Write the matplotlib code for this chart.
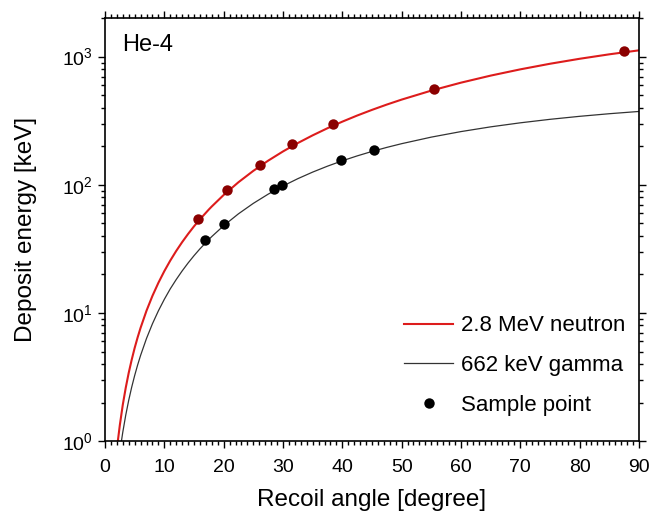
import matplotlib
matplotlib.use("Agg")
import matplotlib.pyplot as plt
from matplotlib.ticker import MultipleLocator, LogLocator, NullFormatter, FixedLocator

plt.rcParams['font.family'] = ['Liberation Sans', 'DejaVu Sans']
plt.rcParams['mathtext.fontset'] = 'custom'
plt.rcParams['mathtext.rm'] = 'Liberation Sans'
plt.rcParams['mathtext.it'] = 'Liberation Sans'

# Curves
neutron_angle = [2.0, 2.2, 2.5, 3, 3.5, 4, 4.5, 5, 5.5, 6, 7, 8, 9, 10, 11, 12, 13, 14, 15,
                 16, 17.5, 18, 20, 22.5, 25, 27.5, 30, 32.5, 35, 37.5, 40, 42.5, 45, 47.5,
                 50, 55, 60, 65, 70, 75, 80, 85, 90]
neutron_energy = [0.853, 1.03, 1.33, 1.92, 2.61, 3.41, 4.31, 5.33, 6.44, 7.66, 10.42, 13.6,
                  17.19, 21.2, 25.62, 30.45, 35.68, 41.32, 47.4, 53.78, 64.15, 67.77, 83.3,
                  104.8, 128.5, 154.3, 182.1, 211.8, 243.2, 276.4, 311.0, 347.1, 384.3,
                  422.8, 462.2, 543.3, 626.6, 711.2, 795.9, 880.0, 962.4, 1042.7, 1120.0]
gamma_angle = [2.6, 2.8, 3, 3.5, 4, 4.5, 5, 5.5, 6, 7, 8, 9, 10, 11, 12, 13, 14, 15, 16,
               17.5, 18, 20, 22.5, 25, 27.5, 30, 32.5, 35, 37.5, 40, 42.5, 45, 47.5,
               50, 55, 60, 65, 70, 75, 80, 85, 90]
gamma_energy = [0.882, 1.02, 1.173, 1.596, 2.083, 2.634, 3.247, 3.925, 4.665, 6.331, 8.24,
                10.39, 12.78, 15.42, 18.22, 21.27, 24.53, 27.99, 31.64, 37.45, 39.47, 47.97,
                59.42, 71.66, 84.53, 97.91, 111.66, 125.66, 139.8, 153.98, 168.1, 182.1,
                195.9, 209.4, 235.6, 260.2, 283.3, 304.6, 324.3, 342.3, 358.7, 373.6]

# Sample points
neutron_pts_angle = [15.7, 20.6, 26.1, 31.5, 38.4, 55.5, 87.4]
neutron_pts_energy = [54, 91, 143, 209, 300, 562, 1100]
gamma_pts_angle = [16.9, 20.1, 28.5, 29.8, 39.8, 45.4]
gamma_pts_energy = [37, 49.6, 93, 100, 157, 188]

fig = plt.figure(figsize=(6.52, 5.16), dpi=100)
ax = fig.add_axes([0.161, 0.145, 0.819, 0.820])

ax.plot(neutron_angle, neutron_energy, color='#dd1c1c', lw=1.5, label='2.8 MeV neutron', zorder=2)
ax.plot(gamma_angle, gamma_energy, color='#333333', lw=0.9, label='662 keV gamma', zorder=2)
ax.plot(neutron_pts_angle, neutron_pts_energy, 'o', color='#8b0000', ms=7.5, mec='none', zorder=3)
ax.plot(gamma_pts_angle, gamma_pts_energy, 'o', color='black', ms=7.5, mec='none', zorder=3,
        label='Sample point')

ax.set_yscale('log')
ax.set_xlim(0, 90)
ax.set_ylim(1, 2000)

ax.xaxis.set_major_locator(MultipleLocator(10))
ax.xaxis.set_minor_locator(MultipleLocator(1))
ax.yaxis.set_major_locator(FixedLocator([1, 10, 100, 1000]))
ax.yaxis.set_minor_locator(LogLocator(base=10, subs=range(2, 10), numticks=20))
ax.yaxis.set_minor_formatter(NullFormatter())
ax.set_yticklabels([r'$10^{0}$', r'$10^{1}$', r'$10^{2}$', r'$10^{3}$'])

ax.tick_params(which='both', direction='out', top=True, right=True, labelsize=14, width=1.0)
ax.tick_params(axis='x', which='major', length=5, pad=8)
ax.tick_params(axis='y', which='major', length=5, pad=4)
ax.tick_params(which='minor', length=3)
for s in ax.spines.values():
    s.set_linewidth(1.2)

ax.set_xlabel('Recoil angle [degree]', fontsize=17.5, labelpad=9.5)
ax.set_ylabel('Deposit energy [keV]', fontsize=17.5, labelpad=18)

ax.text(0.032, 0.936, 'He-4', transform=ax.transAxes, fontsize=17, va='center', ha='left')

ax.legend(loc='lower right', frameon=False, fontsize=16, handlelength=2.2, labelspacing=0.85,
          handletextpad=0.35, markerscale=1.0, bbox_to_anchor=(1.012, 0.012))

fig.savefig('out.png', dpi=100)
